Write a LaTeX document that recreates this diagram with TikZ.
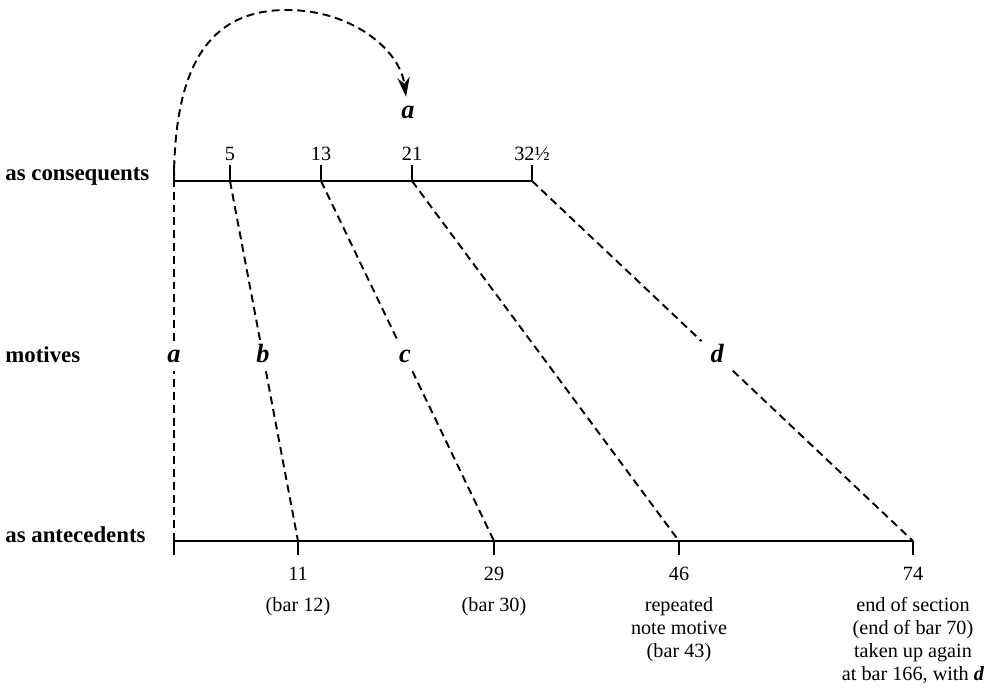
\documentclass[tikz,border=0pt]{standalone}
\usepackage{fontspec}
\setmainfont{Liberation Serif}
\usetikzlibrary{arrows.meta, positioning, calc}
\tikzset{
    axisln/.style={line width=1.1pt},
    tk/.style={line width=1.1pt},
    dsh/.style={line width=1.1pt, dash pattern=on 4.5pt off 2.8pt},
    num/.style={anchor=base, font=\fontsize{11.5}{13}\selectfont, inner sep=0pt},
    note/.style={anchor=base, align=center, font=\fontsize{11.5}{13}\selectfont,
                 inner sep=0pt},
    side/.style={anchor=base west, font=\fontsize{13}{15}\selectfont\bfseries,
                 inner sep=0pt},
    mot/.style={font=\fontsize{15}{17}\selectfont\bfseries\itshape,
                text height=7pt, text depth=0pt, inner sep=5pt},
}

\begin{document}
\begin{tikzpicture}[x=0.02cm, y=-0.02cm]
    \useasboundingbox (0,0) rectangle (998,690);

    % bar positions on the two scales
    \coordinate (c0) at (174,181);
    \coordinate (c5) at (230,181);
    \coordinate (c13) at (321,181);
    \coordinate (c21) at (412,181);
    \coordinate (c32) at (532,181);
    \coordinate (a0) at (174,541);
    \coordinate (a11) at (298,541);
    \coordinate (a29) at (494,541);
    \coordinate (a46) at (679,541);
    \coordinate (a74) at (913,541);

    % row labels
    \node[side] (cons) at (5,180) {as consequents};
    \node[side] (mots) at (5,362) {motives};
    \node[side] (ante) at (5,542) {as antecedents};

    % scales
    \draw[axisln] (c0) -- (c32);
    \draw[axisln] (a0) -- (a74);
    \draw[tk] ($(c0)+(0,-16)$) -- ($(c0)+(0,6)$);
    \draw[tk] ($(a0)+(0,-6)$) -- ($(a0)+(0,14)$);
    \foreach \p in {c5,c13,c21,c32}
        \draw[tk] (\p) -- ++(0,-16);
    \foreach \p in {a11,a29,a46,a74}
        \draw[tk] (\p) -- ++(0,14);

    \node[num] (n5) at ($(c5)+(0,-21)$) {5};
    \node[num] (n13) at ($(c13)+(0,-21)$) {13};
    \node[num] (n21) at ($(c21)+(0,-21)$) {21};
    \node[num] (n32) at ($(c32)+(0,-21)$) {32½};

    \node[num] (n11) at ($(a11)+(0,39)$) {11};
    \node[num] (n29) at ($(a29)+(0,39)$) {29};
    \node[num] (n46) at ($(a46)+(0,39)$) {46};
    \node[num] (n74) at ($(a74)+(0,39)$) {74};
    % base anchor of a multi-line note is its last line
    \node[note] (b11) at ($(a11)+(0,70)$) {(bar 12)};
    \node[note] (b29) at ($(a29)+(0,70)$) {(bar 30)};
    \node[note] (b46) at ($(a46)+(0,116)$) {repeated\\note motive\\(bar 43)};
    \node[note] (b74) at ($(a74)+(0,139)$) {end of section\\(end of bar 70)\\taken up again\\at bar 166, with \textbf{\itshape d}};

    % motives
    \node[mot] (ma) at (174,356) {a};
    \node[mot] (mb) at ($(c5)!0.486!(a11)$) {b};
    \node[mot] (mc) at ($(c13)!0.486!(a29)$) {c};
    \node[mot] (md) at ($(c32)!0.486!(a74)$) {d};
    \node[mot] (atop) at (408,112) {a};

    \draw[dsh] (c5) -- (mb) -- (a11);
    \draw[dsh] (c13) -- (mc) -- (a29);
    \draw[dsh] (c21) -- (a46);
    \draw[dsh] (c32) -- (md) -- (a74);
    \draw[dsh] (a0) -- (ma) -- (c0);
    \draw[dsh, -{Stealth[length=11pt, width=7pt]}] (c0) .. controls (174,50) and (220,10) .. (287,10)
        .. controls (352,10) and (400,50) .. (atop);
\end{tikzpicture}
\end{document}
